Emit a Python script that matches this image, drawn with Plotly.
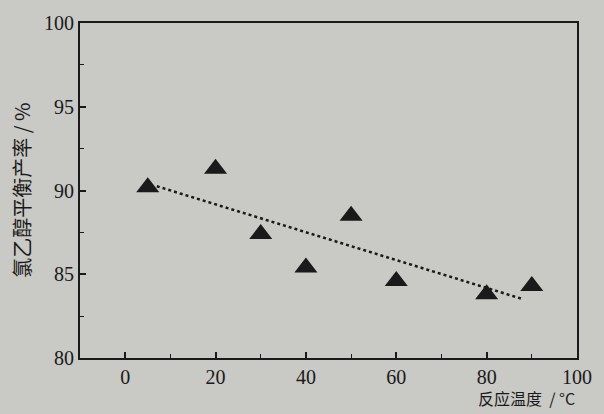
import numpy as np
import plotly.graph_objects as go

# Reaction temperature (°C) and equilibrium yield of chloroethanol (%)
temperature = [5, 20, 30, 40, 50, 60, 80, 90]
yield_pct = [90.2, 91.3, 87.4, 85.4, 88.5, 84.6, 83.8, 84.3]

# Span of the fitted trend line
trend_x = [7, 88]

x_ticks = [0, 20, 40, 60, 80, 100]
y_ticks = [80, 85, 90, 95, 100]

slope, intercept = np.polyfit(temperature, yield_pct, 1)
trend_y = [slope * x + intercept for x in trend_x]

paper = "#c9c9c5"
ink = "#1a1a1a"
serif = "Liberation Serif, Times New Roman, serif"
cjk = "Noto Sans CJK SC, sans-serif"

fig = go.Figure()
fig.add_trace(go.Scatter(
    x=trend_x, y=trend_y, mode="lines",
    line=dict(color=ink, width=2.5, dash="dot"),
    showlegend=False, hoverinfo="skip",
))
fig.add_trace(go.Scatter(
    x=temperature, y=yield_pct, mode="markers",
    marker=dict(symbol="triangle-up", size=20, color=ink),
    showlegend=False,
))

axis_common = dict(
    showline=True, linecolor=ink, linewidth=2, mirror=True,
    ticks="inside", ticklen=6, tickwidth=1.5, tickcolor=ink,
    showgrid=False, zeroline=False,
    tickfont=dict(family=serif, size=20, color=ink),
)

fig.update_xaxes(
    range=[-10, 100], tickvals=x_ticks,
    minor=dict(ticks="inside", ticklen=4, tickwidth=1.2, tickcolor=ink, dtick=10, tick0=0),
    **axis_common,
)
fig.update_yaxes(
    range=[80, 100], tickvals=y_ticks,
    minor=dict(ticks="inside", ticklen=4, tickwidth=1.2, tickcolor=ink, dtick=2.5, tick0=80),
    **axis_common,
)

fig.add_annotation(
    text="氯乙醇平衡产率 / %", textangle=-90,
    xref="paper", yref="paper", x=-0.118, y=0.5,
    xanchor="center", yanchor="middle", showarrow=False,
    font=dict(family=cjk, size=20, color=ink),
)
fig.add_annotation(
    text="反应温度  / °C",
    xref="paper", yref="paper", x=1.0, y=0, yshift=-26,
    xanchor="right", yanchor="top", showarrow=False,
    font=dict(family=cjk, size=16, color=ink),
)

fig.update_layout(
    width=604, height=414,
    margin=dict(l=80, r=19, t=22, b=56),
    paper_bgcolor=paper, plot_bgcolor=paper,
)

fig.write_html("out.html")
